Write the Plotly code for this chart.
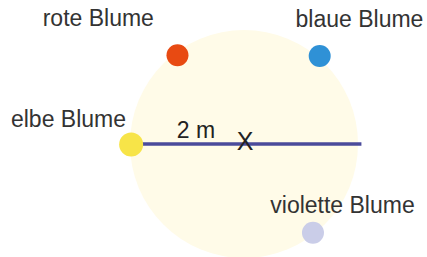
import plotly.graph_objects as go

# scene in metres, X at the centre of a 2 m circle
radius_m = 2.0
flower_names = ["rote Blume", "blaue Blume", "elbe Blume", "violette Blume"]
flower_x = [-1.167, 1.328, -1.98, 1.21]
flower_y = [1.556, 1.544, -0.01, -1.556]
flower_colors = ["#e84a12", "#2f91d6", "#f7e448", "#cacde8"]

label_x = [-2.556, 2.026, -3.079, 1.728]
label_y = [2.175, 2.158, 0.404, -1.105]

line_x = [-1.98, 2.06]
line_y = [0.0, 0.0]

centre_x = [0.02]
centre_y = [0.0]
centre_label = ["X"]

dist_label = ["2 m"]
dist_x = [-0.842]
dist_y = [0.211]

fig = go.Figure()

fig.add_shape(type="circle", xref="x", yref="y",
              x0=-radius_m, y0=-radius_m, x1=radius_m, y1=radius_m,
              fillcolor="#fffbe8", line=dict(width=0), layer="below")

fig.add_trace(go.Scatter(x=line_x, y=line_y, mode="lines",
                         line=dict(color="#4b4b9b", width=3.5),
                         hoverinfo="skip", showlegend=False))

fig.add_trace(go.Scatter(x=centre_x, y=centre_y, mode="text", text=centre_label,
                         textfont=dict(family="Liberation Sans", size=25, color="#222222"),
                         textposition="middle center", showlegend=False))

fig.add_trace(go.Scatter(x=flower_x, y=flower_y, mode="markers",
                         marker=dict(size=[22, 22, 24, 22], color=flower_colors,
                                     opacity=1, line=dict(width=0)),
                         showlegend=False))

fig.add_trace(go.Scatter(x=label_x, y=label_y, mode="text", text=flower_names,
                         textfont=dict(family="Liberation Sans", size=23, color="#333333"),
                         textposition="middle center", showlegend=False))

fig.add_trace(go.Scatter(x=dist_x, y=dist_y, mode="text", text=dist_label,
                         textfont=dict(family="Liberation Sans", size=23, color="#222222"),
                         textposition="middle center", showlegend=False))

px_per_m = 57.0
cx, cy = 244.0, 144.0
fig.update_layout(
    width=427, height=257,
    margin=dict(l=0, r=0, t=0, b=0),
    paper_bgcolor="white", plot_bgcolor="white",
    xaxis=dict(range=[(0 - cx) / px_per_m, (427 - cx) / px_per_m], visible=False, fixedrange=True),
    yaxis=dict(range=[(cy - 257) / px_per_m, cy / px_per_m], visible=False, fixedrange=True),
)

fig.write_html("out.html", config={"displayModeBar": False},
               post_script="document.body.style.margin='0';document.body.style.overflow='hidden';")
